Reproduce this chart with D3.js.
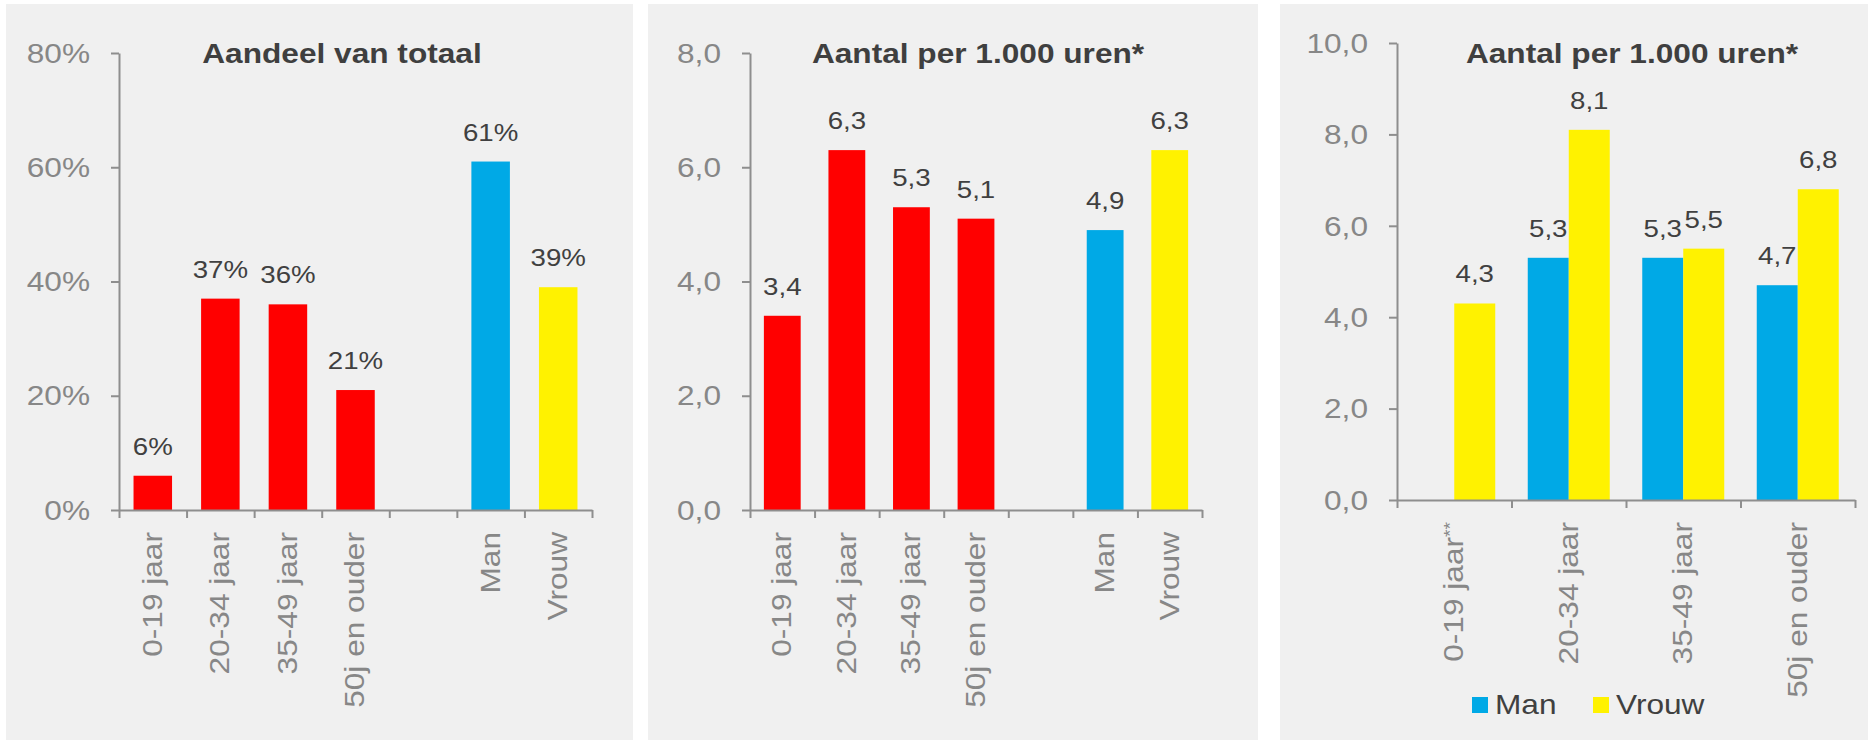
<!DOCTYPE html>
<html>
<head>
<meta charset="utf-8">
<title>Ongevallen per leeftijd en geslacht</title>
<style type="text/css">
    body{
        margin: 0;
        background-color: #fff;
    }
    svg{
        display: block;
        font-family: "Liberation Sans", Arial, sans-serif;
    }
    .panel{
        fill: #f0f0f0;
    }
    .axis{
        color: #8e8e8e;
    }
    .axis text{
        fill: #878787;
        font-size: 28px;
    }
    .title{
        fill: #3f3f3f;
        font-size: 28px;
        font-weight: bold;
    }
    .value{
        fill: #404040;
        font-size: 24.5px;
    }
    .legend text{
        fill: #404040;
        font-size: 28px;
    }
</style>
<script type="text/javascript" src="https://cdn.jsdelivr.net/npm/d3@7/dist/d3.min.js"></script>
</head>
<body>

<div id="chart"></div>

<script type="text/javascript">
    // data
    var ageCats = ['0-19 jaar', '20-34 jaar', '35-49 jaar', '50j en ouder'];
    var sexCats = ['Man', 'Vrouw'];
    var gapCat = ' ';
    var shareValues = [6, 37, 36, 21, 61, 39];          // Aandeel van totaal (%)
    var rateValues = [3.4, 6.3, 5.3, 5.1, 4.9, 6.3];    // Aantal per 1.000 uren
    var rateMan = [null, 5.3, 5.3, 4.7];
    var rateVrouw = [4.3, 8.1, 5.5, 6.8];
    var shareTicks = [0, 20, 40, 60, 80];
    var rateTicks = [0, 2, 4, 6, 8];
    var rate3Ticks = [0, 2, 4, 6, 8, 10];
    var titles = ['Aandeel van totaal', 'Aantal per 1.000 uren*', 'Aantal per 1.000 uren*'];

    var width = 1875, height = 742;
    var SX = 1.13;    // the text in the picture runs a bit wide
    var red = '#ff0000', blue = '#00a9e6', yellow = '#fff200';

    var comma = function(d){ return d3.format('.1f')(d).replace('.', ','); };
    var pct = function(d){ return d + '%'; };

    var svg = d3.select('#chart')
        .append('svg')
        .attr('width', width)
        .attr('height', height);

    var panels = [
        {bg: [6, 4, 627, 736], x0: 119, x1: 592, yBase: 510, yTop: 53, titleX: 342},
        {bg: [648, 4, 610, 736], x0: 750, x1: 1202, yBase: 510, yTop: 53, titleX: 978},
        {bg: [1280, 4, 588, 736], x0: 1397, x1: 1855, yBase: 500, yTop: 43, titleX: 1632}
    ];

    panels.forEach(function(p){
        svg.append('rect')
            .attr('class', 'panel')
            .attr('x', p.bg[0]).attr('y', p.bg[1])
            .attr('width', p.bg[2]).attr('height', p.bg[3]);
    });

    function stretchText(sel, tx, ty, rot){
        sel.attr('transform', 'translate(' + tx + ',' + ty + ')' + (rot ? ' rotate(' + rot + ')' : '') + ' scale(' + SX + ',1)');
    }

    function drawAxes(p, cats, y, ticks, fmt){
        var g = svg.append('g');

        // y axis
        var yAxisG = g.append('g')
            .attr('class', 'axis')
            .attr('transform', 'translate(' + p.x0 + ',0)')
            .call(d3.axisLeft(y).tickValues(ticks).tickSize(8).tickSizeOuter(0).tickPadding(21).tickFormat(fmt));
        yAxisG.attr('font-size', null).attr('font-family', null);
        yAxisG.selectAll('path, line').attr('stroke-width', 2);
        yAxisG.selectAll('.tick text').each(function(){
            var t = d3.select(this);
            var x = +t.attr('x');
            t.attr('x', null).attr('dy', '0.33em');
            stretchText(t, x, 0);
        });

        // x axis line with the ticks between the categories
        var edge = d3.scaleLinear().domain([0, cats.length]).range([p.x0, p.x1]);
        var xAxisG = g.append('g')
            .attr('class', 'axis')
            .attr('transform', 'translate(0,' + p.yBase + ')')
            .call(d3.axisBottom(edge).tickValues(d3.range(cats.length + 1)).tickSize(8).tickSizeOuter(0).tickFormat(''));
        xAxisG.selectAll('path, line').attr('stroke-width', 2);

        // category labels, turned
        var band = d3.scaleBand().domain(cats).range([p.x0, p.x1]);
        var labG = g.append('g')
            .attr('class', 'axis')
            .attr('transform', 'translate(0,' + p.yBase + ')')
            .call(d3.axisBottom(band).tickSize(0).tickPadding(0));
        labG.attr('font-size', null).attr('font-family', null);
        labG.select('.domain').remove();
        labG.selectAll('.tick text')
            .attr('y', null)
            .attr('dy', '0.32em')
            .attr('text-anchor', 'end')
            .each(function(){ stretchText(d3.select(this), 0, 22, -90); });
        return labG;
    }

    function drawTitle(p, text){
        var t = svg.append('text')
            .attr('class', 'title')
            .attr('text-anchor', 'middle')
            .text(text);
        stretchText(t, p.titleX, 63);
    }

    function valueLabel(x, y, text){
        var t = svg.append('text')
            .attr('class', 'value')
            .attr('text-anchor', 'middle')
            .text(text);
        stretchText(t, x, y - 21);
    }

    // panels 1 and 2: one bar per category, a gap before Man / Vrouw
    function simplePanel(p, values, ticks, fmt, title){
        var cats = ageCats.concat([gapCat]).concat(sexCats);
        var data = ageCats.concat(sexCats).map(function(c, i){ return {cat: c, value: values[i]}; });
        var maxV = ticks[ticks.length - 1];

        var x = d3.scaleBand().domain(cats).range([p.x0, p.x1]).paddingInner(0.43).paddingOuter(0.215);
        var y = d3.scaleLinear().domain([0, maxV]).range([p.yBase, p.yTop]);
        var color = d3.scaleOrdinal().domain(ageCats.concat(sexCats))
            .range([red, red, red, red, blue, yellow]);

        svg.append('g').selectAll('rect')
            .data(data)
            .enter()
            .append('rect')
            .attr('x', function(d){ return x(d.cat); })
            .attr('y', function(d){ return y(d.value); })
            .attr('width', x.bandwidth())
            .attr('height', function(d){ return y(0) - y(d.value); })
            .attr('fill', function(d){ return color(d.cat); });

        drawAxes(p, cats, y, ticks, fmt);
        drawTitle(p, title);

        data.forEach(function(d){
            valueLabel(x(d.cat) + x.bandwidth() / 2, y(d.value), fmt(d.value));
        });
    }

    simplePanel(panels[0], shareValues, shareTicks, pct, titles[0]);
    simplePanel(panels[1], rateValues, rateTicks, comma, titles[1]);

    // panel 3: Man and Vrouw side by side per age group
    (function(){
        var p = panels[2];
        var x0 = d3.scaleBand().domain(ageCats).range([p.x0, p.x1]).paddingInner(0.284).paddingOuter(0.142);
        var x1 = d3.scaleBand().domain(sexCats).range([0, x0.bandwidth()]);
        var y = d3.scaleLinear().domain([0, 10]).range([p.yBase, p.yTop]);
        var color = d3.scaleOrdinal().domain(sexCats).range([blue, yellow]);

        var rows = [];
        ageCats.forEach(function(c, i){
            if (rateMan[i] != null) rows.push({cat: c, sex: 'Man', value: rateMan[i]});
            if (rateVrouw[i] != null) rows.push({cat: c, sex: 'Vrouw', value: rateVrouw[i]});
        });

        svg.append('g').selectAll('rect')
            .data(rows)
            .enter()
            .append('rect')
            .attr('x', function(d){ return x0(d.cat) + x1(d.sex); })
            .attr('y', function(d){ return y(d.value); })
            .attr('width', x1.bandwidth())
            .attr('height', function(d){ return y(0) - y(d.value); })
            .attr('fill', function(d){ return color(d.sex); });

        var labG = drawAxes(p, ageCats, y, rate3Ticks, comma);
        // the first group carries two small stars
        labG.selectAll('.tick text')
            .filter(function(d){ return d === ageCats[0]; })
            .append('tspan')
            .attr('font-size', '17px')
            .attr('dy', '-0.45em')
            .text('**');

        drawTitle(p, titles[2]);

        rows.forEach(function(d){
            valueLabel(x0(d.cat) + x1(d.sex) + x1.bandwidth() / 2, y(d.value), comma(d.value));
        });

        // legend
        var legend = svg.append('g').attr('class', 'legend');
        var lx = d3.scaleOrdinal().domain(sexCats).range([1472, 1593]);
        sexCats.forEach(function(s){
            legend.append('rect')
                .attr('x', lx(s)).attr('y', 697)
                .attr('width', 16).attr('height', 16)
                .attr('fill', color(s));
            var t = legend.append('text').text(s);
            stretchText(t, lx(s) + 23, 714);
        });
    })();
</script>

</body>
</html>
